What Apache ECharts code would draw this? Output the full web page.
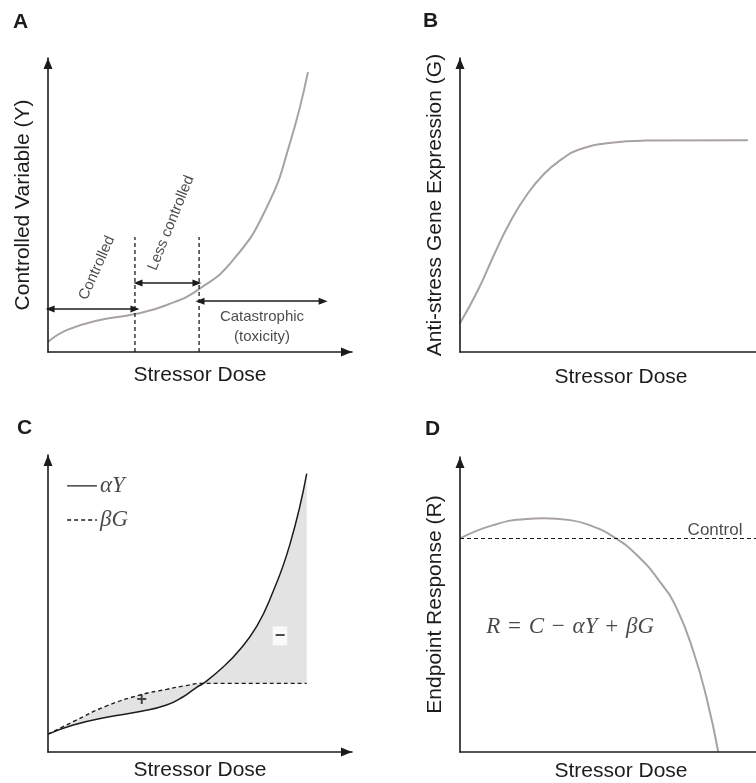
<!DOCTYPE html>
<html>
<head>
<meta charset="utf-8">
<script src="https://cdn.jsdelivr.net/npm/echarts@6/dist/echarts.min.js"></script>
<style>
html,body{margin:0;padding:0;background:#fff;}
#main{width:756px;height:783px;}
</style>
</head>
<body>
<div id="main"></div>
<script>
// A - controlled variable vs dose
var doseA = [0, 6.3, 17.1, 28.6, 39.1, 49.7, 60.9, 72.0, 79.6, 85.5];
var valA  = [3.4, 7.5, 10.9, 12.9, 16.0, 21.4, 31.3, 49.3, 71.1, 95.2];
var zoneEdges = [28.6, 49.7];
var zoneTop = 39.1;
// [from, to, height]
var zoneArrows = [[0.7, 28.6, 14.6], [29.6, 49.0, 23.5], [50.0, 90.5, 17.3]];

// B - anti-stress gene expression
var doseB = [0, 5.6, 10.8, 15.9, 21.1, 26.3, 31.5, 36.6, 47.0, 57.4, 89.4];
var valB  = [9.8, 21.1, 33.6, 44.9, 54.0, 60.8, 65.5, 68.7, 71.2, 71.9, 72.0];

// C - alpha*Y (solid) and beta*G (dashed)
var doseY = [0, 8.3, 19.3, 30.3, 39.0, 44.5, 48.9, 51.1, 57.7, 63.2, 68.7, 73.0, 79.6, 85.1];
var aY    = [6.0, 9.1, 11.7, 13.6, 15.8, 18.6, 21.8, 23.1, 28.7, 34.6, 42.4, 51.4, 70.0, 93.7];
var doseG = [0, 8.3, 19.3, 30.3, 39.0, 44.5, 51.1, 85.1];
var bG    = [6.0, 10.2, 15.5, 19.2, 21.1, 22.2, 23.1, 23.1];
var crossDose = 51.1;

// D - endpoint response
var doseD = [0, 10.3, 20.7, 25.9, 34.2, 41.4, 47.6, 54.9, 62.1, 67.3, 72.5, 76.6, 80.2];
var valD  = [72.4, 76.9, 79.0, 79.2, 78.6, 76.4, 73.0, 66.8, 57.7, 48.7, 34.0, 18.2, 0.1];
var controlLevel = 72.4;

var SANS = "'Liberation Sans', Arial, sans-serif";
var SERIF = "'Liberation Serif', 'Times New Roman', serif";
var INK = '#1c1c1c';
var CURVE = '#a9a2a2';
var SHADE = '#e3e3e3';

var chart = echarts.init(document.getElementById('main'));

function pairs(xs, ys) {
    return xs.map(function (x, i) { return [x, ys[i]]; });
}
function below(xs, ys, limit) {
    var out = [];
    xs.forEach(function (x, i) { if (x <= limit) out.push([x, ys[i]]); });
    return out;
}
function above(xs, ys, limit) {
    var out = [];
    xs.forEach(function (x, i) { if (x >= limit) out.push([x, ys[i]]); });
    return out;
}

function axisBase(idx) {
    return {
        type: 'value', gridIndex: idx, min: 0, max: 100, z: 5,
        axisLine: {show: true, onZero: false, symbol: ['none', 'triangle'], symbolSize: [9, 11], symbolOffset: [0, -5.5],
            lineStyle: {color: INK, width: 1.6}},
        axisTick: {show: false}, axisLabel: {show: false}, splitLine: {show: false},
        nameLocation: 'middle',
        nameTextStyle: {color: INK, fontFamily: SANS, fontSize: 21}
    };
}
function xAx(idx, gap) {
    return Object.assign(axisBase(idx), {name: 'Stressor Dose', nameGap: gap});
}
function yAx(idx, name, gap) {
    return Object.assign(axisBase(idx), {name: name, nameGap: gap});
}
function textMarks(idx, items, style) {
    return {
        type: 'scatter', xAxisIndex: idx, yAxisIndex: idx, symbolSize: 1, silent: true, z: 6,
        itemStyle: {color: 'transparent'},
        label: Object.assign({show: true, position: 'inside', align: 'center', verticalAlign: 'middle',
            color: INK, fontFamily: SANS, fontSize: 15}, style),
        data: items
    };
}
function fill(idx, data, color, z) {
    return {
        type: 'line', xAxisIndex: idx, yAxisIndex: idx, smooth: true, symbol: 'none', silent: true, z: z,
        lineStyle: {width: 0, opacity: 0}, areaStyle: {color: color, opacity: 1}, data: data
    };
}

var series = [];

// ---- A
series.push({
    type: 'line', xAxisIndex: 0, yAxisIndex: 0, smooth: true, symbol: 'none', silent: true,
    lineStyle: {color: CURVE, width: 2}, data: pairs(doseA, valA),
    markLine: {
        silent: true, symbol: ['triangle', 'triangle'], symbolSize: [7, 9],
        lineStyle: {color: INK, width: 1.5, type: 'solid'}, label: {show: false},
        data: zoneArrows.map(function (a) { return [{coord: [a[0], a[2]]}, {coord: [a[1], a[2]]}]; })
    }
});
zoneEdges.forEach(function (x) {
    series.push({
        type: 'line', xAxisIndex: 0, yAxisIndex: 0, symbol: 'none', silent: true,
        lineStyle: {color: INK, width: 1.3, type: [4, 3]}, data: [[x, 0], [x, zoneTop]]
    });
});
series.push(textMarks(0, [
    {value: [16.1, 28.6], label: {formatter: 'Controlled', rotate: 66}},
    {value: [40.5, 43.9], label: {formatter: 'Less controlled', rotate: 68}},
    {value: [70.4, 11.9], label: {formatter: 'Catastrophic'}},
    {value: [70.4, 5.1], label: {formatter: '(toxicity)'}}
], {}));

// ---- B
series.push({
    type: 'line', xAxisIndex: 1, yAxisIndex: 1, smooth: true, symbol: 'none', silent: true,
    lineStyle: {color: CURVE, width: 2}, data: pairs(doseB, valB)
});

// ---- C : grey between the curves = area under the upper one, minus area under the lower one
series.push(fill(2, pairs(doseG, bG), SHADE, 1));
series.push(fill(2, pairs(doseY, aY), SHADE, 1));
series.push(fill(2, below(doseY, aY, crossDose), '#fff', 2));
series.push(fill(2, above(doseG, bG, crossDose), '#fff', 2));
// hide the hairline seams where the white patches meet
[crossDose, doseG[doseG.length - 1]].forEach(function (x) {
    series.push({
        type: 'line', xAxisIndex: 2, yAxisIndex: 2, symbol: 'none', silent: true, z: 2,
        lineStyle: {color: '#fff', width: 2}, data: [[x, 0.5], [x, bG[bG.length - 1] - 0.6]]
    });
});

series.push({
    type: 'line', xAxisIndex: 2, yAxisIndex: 2, smooth: true, symbol: 'none', silent: true, z: 3,
    lineStyle: {color: INK, width: 1.5}, data: pairs(doseY, aY)
});
series.push({
    type: 'line', xAxisIndex: 2, yAxisIndex: 2, smooth: true, symbol: 'none', silent: true, z: 3,
    lineStyle: {color: INK, width: 1.4, type: [4, 3]}, data: pairs(doseG, bG)
});
// legend keys
series.push({
    type: 'line', xAxisIndex: 2, yAxisIndex: 2, symbol: 'none', silent: true,
    lineStyle: {color: INK, width: 1.4}, data: [[6.3, 89.6], [16.1, 89.6]]
});
series.push({
    type: 'line', xAxisIndex: 2, yAxisIndex: 2, symbol: 'none', silent: true,
    lineStyle: {color: INK, width: 1.4, type: [4, 3]}, data: [[6.3, 78.1], [16.1, 78.1]]
});
series.push(textMarks(2, [
    {value: [16.6, 89.6], label: {formatter: 'αY'}},
    {value: [16.6, 78.1], label: {formatter: 'βG'}}
], {position: 'right', distance: 1, align: 'left', fontFamily: SERIF, fontStyle: 'italic', fontSize: 23}));
series.push(textMarks(2, [
    {value: [30.8, 17.5], label: {formatter: '+'}},
    {value: [76.3, 39.1], label: {formatter: '−', backgroundColor: '#fff', padding: [0, 2, 1, 2]}}
], {fontSize: 18, fontWeight: 'bold'}));

// ---- D
series.push({
    type: 'line', xAxisIndex: 3, yAxisIndex: 3, smooth: true, symbol: 'none', silent: true,
    lineStyle: {color: CURVE, width: 2}, data: pairs(doseD, valD),
    markLine: {
        silent: true, symbol: 'none', label: {show: false},
        lineStyle: {color: INK, width: 1.2, type: [4, 3]},
        data: [{yAxis: controlLevel}]
    }
});
series.push(textMarks(3, [
    {value: [79.2, 75.3], label: {formatter: 'Control', fontSize: 17}},
    {value: [34.2, 42.4], label: {
        formatter: '{i|R} {o|=} {i|C} {o|−} {i|αY} {o|+} {i|βG}',
        fontFamily: SERIF, fontSize: 23,
        rich: {
            i: {fontFamily: SERIF, fontStyle: 'italic', fontSize: 23, color: INK},
            o: {fontFamily: SERIF, fontSize: 23, color: INK, padding: [0, 2, 0, 2]}
        }
    }}
], {}));

var letters = [['A', 13, 22], ['B', 423, 21], ['C', 17, 428], ['D', 425, 429]];

chart.setOption({
    animation: false,
    backgroundColor: '#fff',
    grid: [
        {left: 48, top: 58, width: 304, height: 294, outerBoundsMode: 'none'},
        {left: 460, top: 58, width: 322, height: 294, outerBoundsMode: 'none'},
        {left: 48, top: 455, width: 304, height: 297, outerBoundsMode: 'none'},
        {left: 460, top: 457, width: 322, height: 295, outerBoundsMode: 'none'}
    ],
    xAxis: [xAx(0, 13), xAx(1, 15), xAx(2, 8), xAx(3, 9)],
    yAxis: [
        yAx(0, 'Controlled Variable (Y)', 14),
        yAx(1, 'Anti-stress Gene Expression (G)', 14),
        yAx(2, '', 14),
        yAx(3, 'Endpoint Response (R)', 14)
    ],
    graphic: letters.map(function (l) {
        return {type: 'text', x: l[1], y: l[2],
            style: {text: l[0], font: 'bold 21px ' + SANS, fill: INK, align: 'left', verticalAlign: 'middle'}};
    }),
    series: series
});
</script>
</body>
</html>
